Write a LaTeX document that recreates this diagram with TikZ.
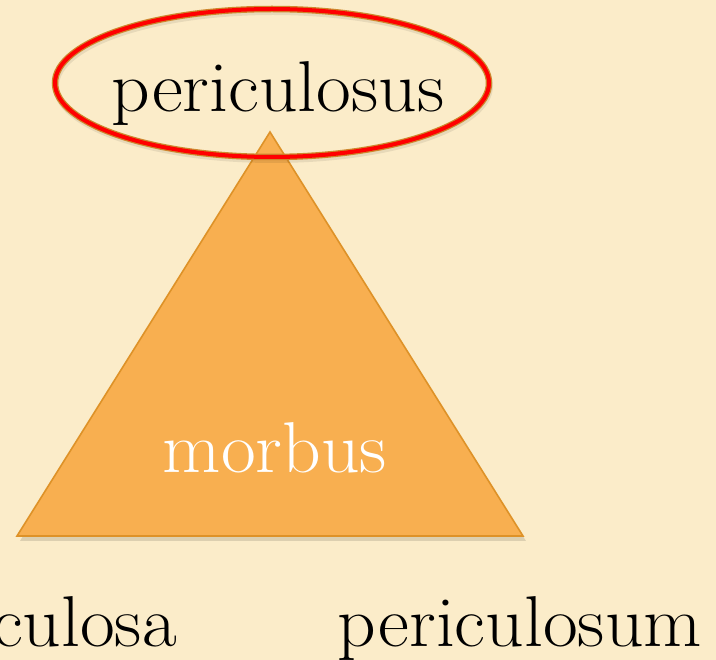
\documentclass[tikz,border=0pt]{standalone}
\usepackage{tikz}
\usetikzlibrary{positioning}
\definecolor{paper}{RGB}{251,236,201}
\definecolor{tri}{RGB}{248,175,80}
\definecolor{triedge}{RGB}{222,146,40}
\definecolor{ringedge}{RGB}{205,135,45}

\begin{document}
\begin{tikzpicture}[x=1pt,y=-1pt,
  word/.style={font=\fontsize{72}{84}\selectfont,inner sep=0pt,anchor=base,xscale=1.05}]
  % background
  \fill[paper] (0,0) rectangle (716,660);
  \clip (0,0) rectangle (716,660);
  % triangle and its shadow
  \fill[black,opacity=.12] (272,136) -- (526,541) -- (20,541) -- cycle;
  \filldraw[fill=tri,draw=triedge,line width=1.6pt] (270,132) -- (523,536) -- (17,536) -- cycle;
  \node[word,white] (morbus) at (275,473) {morbus};
  % ring round the top word
  \draw[black,opacity=.08,line width=6pt] (273,86) ellipse [x radius=217pt,y radius=74pt];
  \draw[ringedge,line width=6.5pt] (272,83) ellipse [x radius=217pt,y radius=74pt];
  \draw[red,line width=4pt] (272,83) ellipse [x radius=217pt,y radius=74pt];
  \node[word] (top) at (278,112) {periculosus};
  % the other two forms
  \node[word,anchor=base east] (fem) at (177,647) {periculosa};
  \node[word] (neut) at (520,647) {periculosum};
\end{tikzpicture}
\end{document}
